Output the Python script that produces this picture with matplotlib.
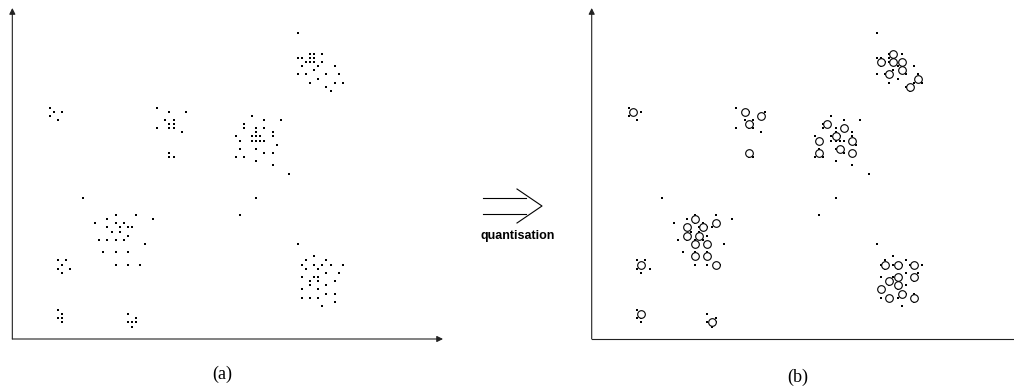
import matplotlib
matplotlib.use("Agg")
import matplotlib.pyplot as plt
from matplotlib.lines import Line2D

# data points (grid units), same set in both panels
points = [
    # top right cluster
    (69, 74), (72, 69), (73, 69), (75, 69), (69, 68), (70, 68), (72, 68), (73, 68),
    (71, 67), (72, 67), (73, 67), (75, 67), (70, 66), (74, 66), (78, 66), (73, 65),
    (69, 64), (71, 64), (76, 64), (79, 64), (74, 63), (72, 62), (78, 62), (80, 62),
    (76, 61), (77, 60),
    # top left
    (9, 56), (10, 55), (12, 55), (9, 54), (11, 53),
    # upper middle
    (35, 56), (38, 55), (42, 55), (37, 53), (39, 53), (38, 52), (39, 52), (35, 51),
    (38, 51), (39, 51), (41, 50), (38, 45), (38, 44), (39, 44),
    # centre cluster
    (58, 54), (61, 53), (65, 53), (56, 52), (56, 51), (59, 51), (61, 51), (59, 50),
    (63, 50), (54, 49), (58, 49), (59, 49), (60, 49), (63, 49), (55, 48), (58, 48),
    (59, 48), (60, 48), (61, 48), (64, 47), (55, 46), (59, 46), (61, 45), (63, 45),
    (54, 44), (56, 44), (59, 43), (63, 42), (67, 40),
    # isolated
    (17, 34), (59, 34), (55, 30), (69, 23),
    # lower left cluster
    (25, 30), (30, 30), (23, 29), (34, 29), (20, 28), (25, 28), (27, 28), (23, 27),
    (26, 27), (28, 27), (29, 27), (24, 26), (26, 26), (28, 25), (21, 24), (23, 24),
    (25, 24), (27, 24), (32, 23), (22, 21), (25, 21), (28, 21), (25, 18), (28, 18),
    (31, 18),
    # small groups bottom left
    (11, 19), (13, 19), (12, 18), (11, 17), (14, 17), (12, 16),
    (11, 7), (12, 6), (11, 5), (12, 5), (12, 4),
    (28, 6), (30, 5), (28, 4), (29, 4), (30, 4), (29, 3),
    # lower right cluster
    (73, 20), (71, 19), (76, 19), (70, 18), (73, 18), (75, 18), (77, 18), (80, 18),
    (71, 17), (74, 17), (76, 16), (79, 16), (70, 15), (73, 15), (74, 15), (72, 14),
    (74, 14), (78, 14), (72, 13), (76, 13), (70, 12), (74, 12), (76, 11), (78, 11),
    (70, 10), (72, 10), (74, 10), (78, 9), (75, 8),
]

# quantised positions (circles in panel b)
codebook = [
    (73, 69), (70, 67), (73, 67), (75, 67), (75, 65), (72, 64), (79, 63), (77, 61),
    (10, 55),
    (37, 55), (41, 54), (38, 52), (38, 45),
    (57, 52), (61, 51), (59, 49), (63, 48), (55, 48), (60, 46), (55, 45), (63, 45),
    (25, 29), (23, 27), (27, 27), (30, 28), (23, 25), (26, 25), (25, 23), (28, 23),
    (25, 20), (28, 20), (30, 18),
    (12, 18), (12, 6), (29, 4),
    (71, 18), (74, 18), (78, 18), (78, 15), (74, 15), (72, 14), (74, 13), (70, 12),
    (75, 11), (72, 10), (78, 10),
]

px = [p[0] for p in points]
py = [p[1] for p in points]
cx = [c[0] for c in codebook]
cy = [c[1] for c in codebook]

W, H = 1014, 389
fig = plt.figure(figsize=(W / 100, H / 100), dpi=100)

unit = 4.133  # pixels per grid step
ax_a = fig.add_axes([12.33 / W, 50 / H, 430.7 / W, 331 / H])
ax_b = fig.add_axes([591.7 / W, 50 / H, 422.3 / W, 331 / H])

for ax, width in [(ax_a, 430.7), (ax_b, 422.3)]:
    ax.set_xlim(0, width / unit)
    ax.set_ylim(0, 331 / unit)
    ax.axis("off")
    ax.plot(px, py, "s", ms=1.5, color="black", mew=0, zorder=2, clip_on=False)
    # y axis with arrow
    ax.annotate("", xy=(0, 1), xytext=(0, 0), xycoords="axes fraction",
                arrowprops=dict(arrowstyle="-|>", lw=0.8, color="#222222",
                                mutation_scale=9, shrinkA=0, shrinkB=0))

# x axes
ax_a.annotate("", xy=(1, 0), xytext=(0, 0), xycoords="axes fraction",
              arrowprops=dict(arrowstyle="-|>", lw=0.8, color="#222222",
                              mutation_scale=9, shrinkA=0, shrinkB=0))
ax_b.plot([0, 1], [0, 0], color="#222222", lw=0.8, transform=ax_b.transAxes,
          clip_on=False)

ax_b.plot(cx, cy, "o", ms=5.5, mfc="white", mec="black", mew=0.8, zorder=3,
          clip_on=False)

# double arrow between the panels
def fx(x):
    return x / W

def fy(y):
    return 1 - y / H

lk = dict(color="black", lw=0.8, transform=fig.transFigure)
fig.add_artist(Line2D([fx(483), fx(526)], [fy(198), fy(198)], **lk))
fig.add_artist(Line2D([fx(483), fx(526)], [fy(214), fy(214)], **lk))
fig.add_artist(Line2D([fx(517), fx(542), fx(517)], [fy(189), fy(206), fy(223)], **lk))

fig.text(fx(518), fy(236), "quantisation", ha="center", va="center",
         fontsize=9, fontweight="bold", family="Liberation Sans")
fig.text(fx(222), fy(374), "(a)", ha="center", va="center",
         fontsize=13, family="Liberation Serif")
fig.text(fx(798), fy(377), "(b)", ha="center", va="center",
         fontsize=13, family="Liberation Serif")

fig.savefig("out.png", dpi=100)
